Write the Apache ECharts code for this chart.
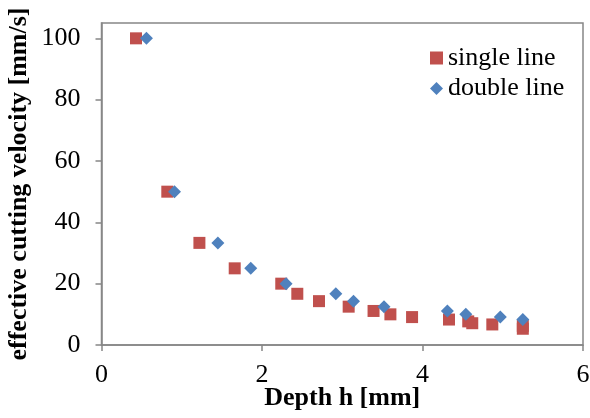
<!DOCTYPE html>
<html>
<head>
<meta charset="utf-8">
<script src="https://cdn.jsdelivr.net/npm/echarts@6/dist/echarts.min.js"></script>
<style>html,body{margin:0;padding:0;background:#fff}#c{width:590px;height:418px}</style>
</head>
<body>
<div id="c"></div>
<script>
var singleDepth = [0.43, 0.82, 1.22, 1.66, 2.24, 2.44, 2.71, 3.08, 3.39, 3.60, 3.87, 4.33, 4.57, 4.62, 4.87, 5.25, 5.25];
var singleVel   = [100, 50, 33.3, 25, 20, 16.7, 14.3, 12.5, 11.1, 10, 9.1, 8.3, 7.7, 7.1, 6.7, 6.25, 5.3];
var doubleDepth = [0.56, 0.91, 1.45, 1.86, 2.30, 2.92, 3.14, 3.52, 4.31, 4.54, 4.97, 5.25];
var doubleVel   = [100, 50, 33.3, 25, 20, 16.7, 14.3, 12.5, 11.1, 10, 9.1, 8.3];
var yTicks = [0, 20, 40, 60, 80, 100];
var seriesNames = ['single line', 'double line'];

function pairs(xs, ys) { return xs.map(function (x, i) { return [x, ys[i]]; }); }

var font = 'Liberation Serif';
var axisGray = '#878787';
var chart = echarts.init(document.getElementById('c'));
chart.setOption({
  animation: false,
  grid: { left: 101.5, right: 7, top: 23, bottom: 73, show: true, borderColor: axisGray, borderWidth: 1.5,
          backgroundColor: 'transparent', containLabel: false, outerBoundsMode: 'none' },
  legend: {
    orient: 'vertical', left: 425, top: 40, itemGap: 4.5, itemWidth: 13, itemHeight: 13,
    textStyle: { fontFamily: font, fontSize: 26, color: '#000' },
    data: [{ name: seriesNames[0], icon: 'rect', itemStyle: { color: '#C0504D' } },
           { name: seriesNames[1], icon: 'diamond', itemStyle: { color: '#4F81BD' } }]
  },
  xAxis: {
    type: 'value', min: 0, max: 6, interval: 2,
    name: 'Depth h [mm]', nameLocation: 'middle', nameGap: 40, nameMoveOverlap: false,
    nameTextStyle: { fontFamily: font, fontSize: 26, fontWeight: 'bold', color: '#000' },
    axisLine: { show: true, lineStyle: { color: axisGray, width: 1.5 } },
    axisTick: { show: true, length: 6, lineStyle: { color: axisGray, width: 1.5 } },
    axisLabel: { fontFamily: font, fontSize: 26, color: '#000', margin: 17 },
    splitLine: { show: false }
  },
  yAxis: {
    type: 'value', min: 0, max: 105,
    name: 'effective cutting velocity [mm/s]', nameLocation: 'middle', nameGap: 69, nameRotate: 90, nameMoveOverlap: false,
    nameTextStyle: { fontFamily: font, fontSize: 26, fontWeight: 'bold', color: '#000' },
    axisLine: { show: true, lineStyle: { color: axisGray, width: 1.5 } },
    axisTick: { show: true, length: 6, customValues: yTicks, lineStyle: { color: axisGray, width: 1.5 } },
    axisLabel: { fontFamily: font, fontSize: 26, color: '#000', margin: 21, customValues: yTicks },
    splitLine: { show: false }
  },
  series: [
    { name: seriesNames[0], type: 'scatter', symbol: 'rect', symbolSize: 12,
      itemStyle: { color: '#C0504D', opacity: 1 }, data: pairs(singleDepth, singleVel) },
    { name: seriesNames[1], type: 'scatter', symbol: 'diamond', symbolSize: 13,
      itemStyle: { color: '#4F81BD', opacity: 1 }, data: pairs(doubleDepth, doubleVel) }
  ]
});
</script>
</body>
</html>
